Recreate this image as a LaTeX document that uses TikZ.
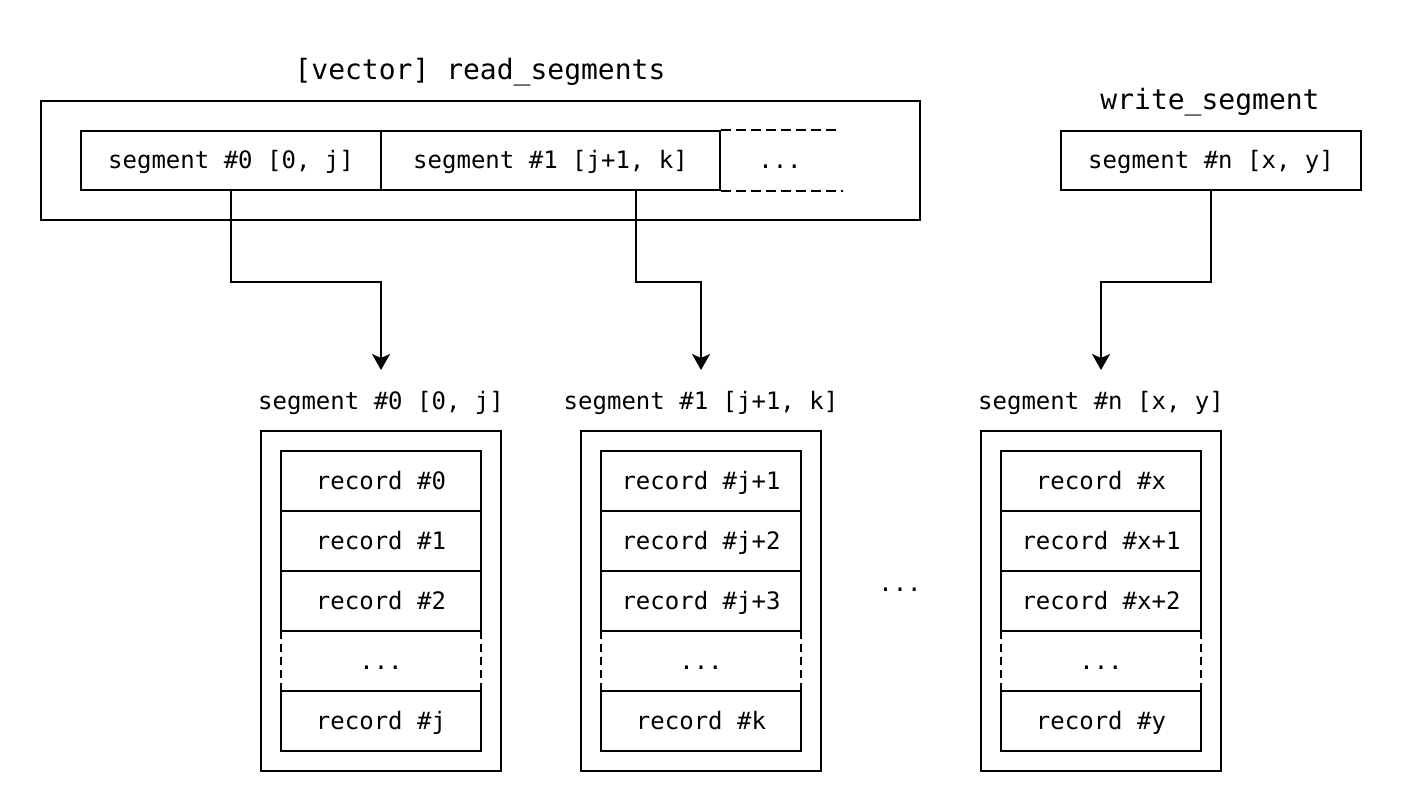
\documentclass[tikz,border=0pt]{standalone}
\usepackage{fontspec}
\setmonofont{DejaVu Sans Mono}
\usetikzlibrary{arrows.meta}

\tikzset{
    box/.style={draw, line width=1pt, inner sep=0pt, minimum height=29.5pt},
    recbox/.style={box, minimum width=100pt, minimum height=30pt},
    gapbox/.style={inner sep=0pt, minimum width=100pt, minimum height=30pt},
    gapline/.style={line width=1pt, dash pattern=on 4pt off 2.5pt},
    title/.style={font=\ttfamily\fontsize{14}{16}\selectfont},
    link/.style={line width=1pt, -{Stealth[length=8pt, width=9pt, inset=2pt]}},
}

\begin{document}
\begin{tikzpicture}[x=0.5pt, y=-0.5pt,
    every node/.style={font=\ttfamily\fontsize{12}{14}\selectfont,
        text height=10pt, text depth=2pt}]
    \useasboundingbox (0,0) rectangle (1402,812);

    % read segments
    \node[title] (rtitle) at (480,72) {[vector] read\_segments};
    \draw[line width=1pt] (41,101) rectangle (920,220);
    \node[box, minimum width=150pt] (rs0) at (231,160.5) {segment \#0 [0, j]};
    \node[box, minimum width=169.5pt] (rs1) at (550.5,160.5) {segment \#1 [j+1, k]};
    \node (rsdots) at (780,160.5) {...};
    \draw[gapline, dash pattern=on 5pt off 2.5pt] (rs1.north east) -- ++(118,0);
    \draw[gapline, dash pattern=on 5pt off 2.5pt] (rs1.south east) -- ++(122,0);

    % write segment
    \node[title] (wtitle) at (1210,102) {write\_segment};
    \node[box, minimum width=150pt] (ws) at (1211,160.5) {segment \#n [x, y]};

    % segment #0
    \node (lbl0) at (381,401) {segment \#0 [0, j]};
    \draw[line width=1pt] (261,431) rectangle (501,771);
    \node[recbox] (r00) at (381,481) {record \#0};
    \node[recbox] (r01) at (381,541) {record \#1};
    \node[recbox] (r02) at (381,601) {record \#2};
    \node[gapbox] (r03) at (381,661) {...};
    \draw[gapline] (r03.north west) -- (r03.south west);
    \draw[gapline] (r03.north east) -- (r03.south east);
    \node[recbox] (r04) at (381,721) {record \#j};

    % segment #1
    \node (lbl1) at (701,401) {segment \#1 [j+1, k]};
    \draw[line width=1pt] (581,431) rectangle (821,771);
    \node[recbox] (r10) at (701,481) {record \#j+1};
    \node[recbox] (r11) at (701,541) {record \#j+2};
    \node[recbox] (r12) at (701,601) {record \#j+3};
    \node[gapbox] (r13) at (701,661) {...};
    \draw[gapline] (r13.north west) -- (r13.south west);
    \draw[gapline] (r13.north east) -- (r13.south east);
    \node[recbox] (r14) at (701,721) {record \#k};

    \node (middots) at (900,583) {...};

    % segment #n
    \node (lbl2) at (1101,401) {segment \#n [x, y]};
    \draw[line width=1pt] (981,431) rectangle (1221,771);
    \node[recbox] (r20) at (1101,481) {record \#x};
    \node[recbox] (r21) at (1101,541) {record \#x+1};
    \node[recbox] (r22) at (1101,601) {record \#x+2};
    \node[gapbox] (r23) at (1101,661) {...};
    \draw[gapline] (r23.north west) -- (r23.south west);
    \draw[gapline] (r23.north east) -- (r23.south east);
    \node[recbox] (r24) at (1101,721) {record \#y};

    % links
    \coordinate (in0) at (381,370);
    \coordinate (in1) at (701,370);
    \coordinate (in2) at (1101,370);
    \draw[link] (rs0.south) -- ++(0,91) -| (in0);
    \draw[link] ([xshift=42.75pt]rs1.south) -- ++(0,91) -| (in1);
    \draw[link] (ws.south) -- ++(0,91) -| (in2);
\end{tikzpicture}
\end{document}
